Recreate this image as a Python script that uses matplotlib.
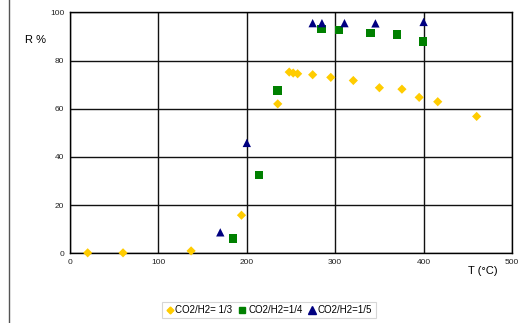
import matplotlib
matplotlib.use("Agg")
import matplotlib.pyplot as plt
from matplotlib.lines import Line2D

plt.rcParams['font.family'] = ['Liberation Sans', 'DejaVu Sans']

# Data
t_13 = [20, 60, 137, 194, 235, 248, 252.5, 257.5, 274.5, 295, 320.5, 350, 375.5, 395, 416, 460]
r_13 = [0.2, 0.2, 1.0, 15.8, 62, 75.2, 74.8, 74.5, 74.1, 73, 71.7, 68.7, 68.1, 64.7, 62.9, 56.8]

t_14 = [184.5, 214, 234.5, 284.5, 304.5, 340, 370, 399.5]
r_14 = [6.2, 32.4, 67.5, 93, 92.7, 91.4, 90.7, 88]

t_15 = [170, 200, 274.5, 285, 310.5, 345.5, 400]
r_15 = [8.7, 45.8, 95.5, 95.5, 95.5, 95.4, 96.0]

labels = ["CO2/H2= 1/3", "CO2/H2=1/4", "CO2/H2=1/5"]
xticks = [0, 100, 200, 300, 400, 500]
yticks = [0, 20, 40, 60, 80, 100]

fig = plt.figure(figsize=(5.21, 3.23), dpi=100)
ax = fig.add_axes([70/521, 1-253.3/323, (512-70)/521, (253.3-12.3)/323])

ax.scatter(t_13, r_13, marker='D', s=22, color='#FFCC00', edgecolors='none', zorder=3, clip_on=False, label=labels[0])
ax.scatter(t_14, r_14, marker='s', s=38, color='#008000', edgecolors='none', zorder=3, clip_on=False, label=labels[1])
ax.scatter(t_15, r_15, marker='^', s=36, color='#000080', edgecolors='none', zorder=3, clip_on=False, label=labels[2])

ax.set_xlim(0, 500)
ax.set_ylim(0, 100)
ax.set_xticks(xticks)
ax.set_yticks(yticks)
ax.grid(True, color='#111111', linewidth=1.0)
ax.set_axisbelow(True)
for s in ax.spines.values():
    s.set_color('black')
    s.set_linewidth(1.0)
ax.tick_params(axis='both', length=0, labelsize=6, pad=4, colors='#222222')

fig.text(25/521, 1-40/323, "R %", fontsize=8, va='center', ha='left')
fig.text(468/521, 1-271/323, "T (°C)", fontsize=8, va='center', ha='left')

handles = [
    Line2D([], [], marker='D', color='#FFCC00', linestyle='none', markersize=3.5),
    Line2D([], [], marker='s', color='#008000', linestyle='none', markersize=5),
    Line2D([], [], marker='^', color='#000080', linestyle='none', markersize=5.5),
]
leg = fig.legend(handles, labels, loc='center', bbox_to_anchor=(269/521, 1-310/323), ncol=3,
                 fontsize=7, frameon=True, fancybox=False, handlelength=0.8, handletextpad=0.2,
                 columnspacing=0.6, borderpad=0.35, edgecolor='#cccccc')
leg.get_frame().set_linewidth(0.8)

# page edge line on the left
fig.add_artist(Line2D([9/521, 9/521], [0, 1], color='#555555', linewidth=1.0))

fig.savefig("out.png", dpi=100)
